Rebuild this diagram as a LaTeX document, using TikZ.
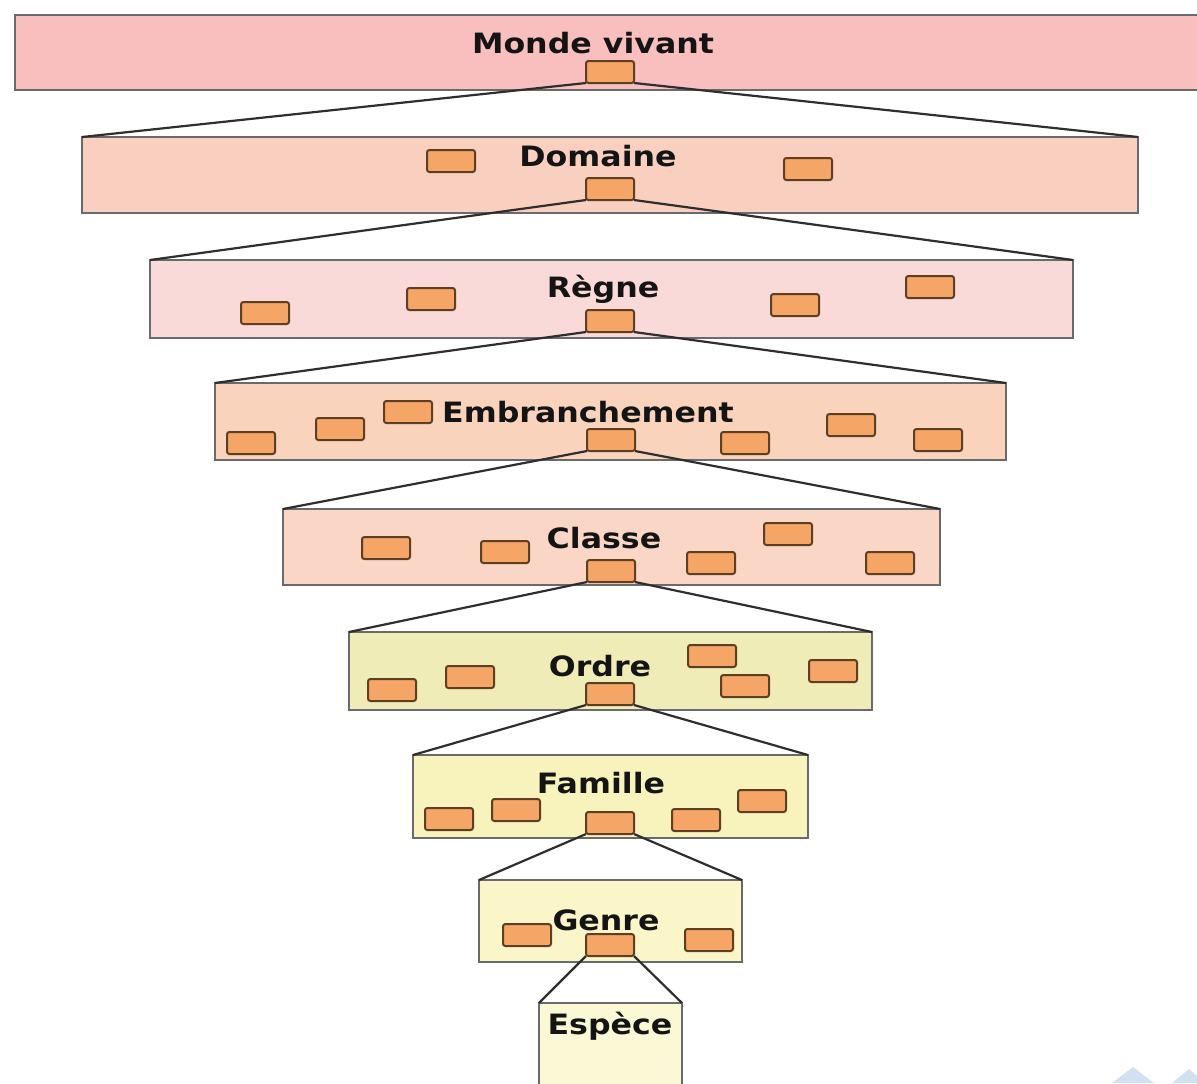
\documentclass[tikz,border=0pt]{standalone}
\usepackage{fontspec}
\usepackage{graphicx}
\setmainfont{DejaVu Sans}
\definecolor{cMonde}{HTML}{F9BFBF}
\definecolor{cDom}{HTML}{F9CFC0}
\definecolor{cReg}{HTML}{FAD9D9}
\definecolor{cEmb}{HTML}{F9D3BC}
\definecolor{cCla}{HTML}{FAD6C6}
\definecolor{cOrd}{HTML}{EFECB8}
\definecolor{cFam}{HTML}{F8F3BD}
\definecolor{cGen}{HTML}{FAF6CA}
\definecolor{cEsp}{HTML}{FBF8D6}
\definecolor{cBox}{HTML}{F5A566}
\definecolor{cBoxD}{HTML}{5E3F22}
\definecolor{cEdge}{HTML}{6A6A6A}
\definecolor{cLine}{HTML}{2E2E2E}
\definecolor{cBlue}{HTML}{D3E0F2}
\tikzset{
  lvl/.style={draw=cEdge, line width=0.9pt, inner sep=0pt, outer sep=0pt},
  sbox/.style={draw=cBoxD, fill=cBox, line width=1pt, rounded corners=1.2pt,
    minimum width=24pt, minimum height=11pt, inner sep=0pt, outer sep=0pt},
  ttl/.style={font=\bfseries\fontsize{14}{15}\selectfont, inner sep=0pt, text=black!92},
  conn/.style={draw=cLine, line width=1.1pt}
}
\newcommand\levelrect[6]{%
  \node[lvl, fill=#6, minimum width={(#4-#2)*0.5pt}, minimum height={(#5-#3)*0.5pt}]
    (#1) at ({(#2+#4)/2},{(#3+#5)/2}) {};}
\newcommand\ttltext[4]{\node[ttl] (#1) at (#2,#3) {\scalebox{1.13}[1]{#4}};}
\begin{document}
\begin{tikzpicture}[x=0.5pt, y=-0.5pt]
\useasboundingbox (0,0) rectangle (1197,1083);
\clip (0,0) rectangle (1197,1083);

% level rectangles
\levelrect{monde}{15}{15}{1210}{90}{cMonde}
\levelrect{dom}{82}{137}{1138}{213}{cDom}
\levelrect{reg}{150}{260}{1073}{338}{cReg}
\levelrect{emb}{215}{383}{1006}{460}{cEmb}
\levelrect{cla}{283}{509}{940}{585}{cCla}
\levelrect{ord}{349}{632}{872}{710}{cOrd}
\levelrect{fam}{413}{755}{808}{838}{cFam}
\levelrect{gen}{479}{880}{742}{962}{cGen}
\levelrect{esp}{539}{1003}{682}{1100}{cEsp}

% titles
\ttltext{tmonde}{593}{43}{Monde vivant}
\ttltext{tdom}{598}{156}{Domaine}
\ttltext{treg}{603}{289}{Règne}
\ttltext{temb}{588}{412}{Embranchement}
\ttltext{tcla}{604}{538}{Classe}
\ttltext{tord}{600}{666}{Ordre}
\ttltext{tfam}{601}{783}{Famille}
\ttltext{tgen}{606}{920}{Genre}
\ttltext{tesp}{610}{1026}{Espèce}

% small boxes: Monde
\node[sbox] (m0) at (610,72) {};
% Domaine
\node[sbox] (d1) at (451,161) {};
\node[sbox] (d2) at (808,169) {};
\node[sbox] (d0) at (610,189) {};
% Regne
\node[sbox] (r1) at (265,313) {};
\node[sbox] (r2) at (431,299) {};
\node[sbox] (r3) at (795,305) {};
\node[sbox] (r4) at (930,287) {};
\node[sbox] (r0) at (610,321) {};
% Embranchement
\node[sbox] (e1) at (251,443) {};
\node[sbox] (e2) at (340,429) {};
\node[sbox] (e3) at (408,412) {};
\node[sbox] (e4) at (745,443) {};
\node[sbox] (e5) at (851,425) {};
\node[sbox] (e6) at (938,440) {};
\node[sbox] (e0) at (611,440) {};
% Classe
\node[sbox] (c1) at (386,548) {};
\node[sbox] (c2) at (505,552) {};
\node[sbox] (c3) at (711,563) {};
\node[sbox] (c4) at (788,534) {};
\node[sbox] (c5) at (890,563) {};
\node[sbox] (c0) at (611,571) {};
% Ordre
\node[sbox] (o1) at (392,690) {};
\node[sbox] (o2) at (470,677) {};
\node[sbox] (o3) at (712,656) {};
\node[sbox] (o4) at (745,686) {};
\node[sbox] (o5) at (833,671) {};
\node[sbox] (o0) at (610,694) {};
% Famille
\node[sbox] (f1) at (449,819) {};
\node[sbox] (f2) at (516,810) {};
\node[sbox] (f3) at (696,820) {};
\node[sbox] (f4) at (762,801) {};
\node[sbox] (f0) at (610,823) {};
% Genre
\node[sbox] (g1) at (527,935) {};
\node[sbox] (g2) at (709,940) {};
\node[sbox] (g0) at (610,945) {};

% connectors
\begin{scope}[on background layer/.style={}]
\draw[conn] (m0.south west) -- (dom.north west);
\draw[conn] (m0.south east) -- (dom.north east);
\draw[conn] (d0.south west) -- (reg.north west);
\draw[conn] (d0.south east) -- (reg.north east);
\draw[conn] (r0.south west) -- (emb.north west);
\draw[conn] (r0.south east) -- (emb.north east);
\draw[conn] (e0.south west) -- (cla.north west);
\draw[conn] (e0.south east) -- (cla.north east);
\draw[conn] (c0.south west) -- (ord.north west);
\draw[conn] (c0.south east) -- (ord.north east);
\draw[conn] (o0.south west) -- (fam.north west);
\draw[conn] (o0.south east) -- (fam.north east);
\draw[conn] (f0.south west) -- (gen.north west);
\draw[conn] (f0.south east) -- (gen.north east);
\draw[conn] (g0.south west) -- (esp.north west);
\draw[conn] (g0.south east) -- (esp.north east);
\end{scope}

% faint blue mark, bottom right
\fill[cBlue] (1112,1083) -- (1133,1067) -- (1154,1083) -- cycle;
\fill[cBlue] (1172,1083) -- (1189,1069) -- (1205,1083) -- cycle;
\end{tikzpicture}
\end{document}
